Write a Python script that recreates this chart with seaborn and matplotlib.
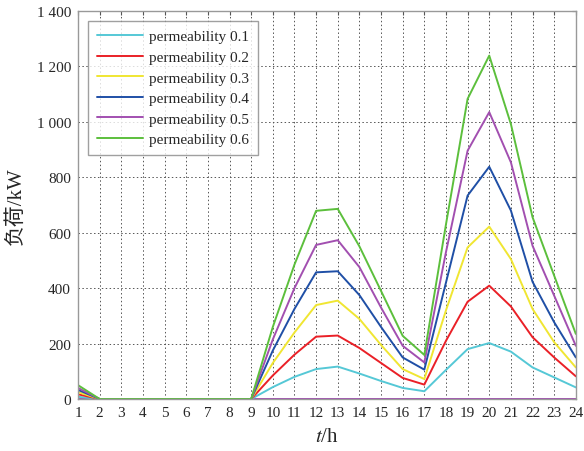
import pandas as pd
import matplotlib.pyplot as plt
import matplotlib.ticker as mticker
import seaborn as sns


hours = list(range(1, 25))

load_01 = [8, 0, 0, 0, 0, 0, 0, 0, 0, 43, 80, 108, 117, 92, 65, 40, 28, 105, 180, 202, 171, 114, 78, 42]
load_02 = [17, 0, 0, 0, 0, 0, 0, 0, 0, 85, 160, 225, 229, 184, 130, 76, 52, 210, 351, 409, 334, 223, 150, 82]
load_03 = [25, 0, 0, 0, 0, 0, 0, 0, 0, 130, 240, 339, 355, 289, 195, 108, 72, 320, 547, 622, 505, 325, 205, 114]
load_04 = [33, 0, 0, 0, 0, 0, 0, 0, 0, 175, 325, 457, 461, 375, 260, 150, 106, 420, 734, 838, 680, 423, 277, 150]
load_05 = [40, 0, 0, 0, 0, 0, 0, 0, 0, 215, 400, 556, 573, 476, 330, 192, 132, 530, 896, 1035, 854, 553, 373, 192]
load_06 = [50, 0, 0, 0, 0, 0, 0, 0, 0, 260, 485, 679, 686, 551, 390, 228, 159, 630, 1083, 1239, 992, 656, 445, 235]
baseline = [0] * 24

labels = ["permeability 0.1", "permeability 0.2", "permeability 0.3",
          "permeability 0.4", "permeability 0.5", "permeability 0.6"]
colors = ["#55c8d6", "#ea2027", "#f0e632", "#1f4fa6", "#a24fb0", "#5cbf3c"]
y_ticks = [0, 200, 400, 600, 800, 1000, 1200, 1400]

sns.set_style("white")
plt.rcParams["font.family"] = ["Liberation Serif", "Noto Sans CJK SC"]
plt.rcParams["mathtext.fontset"] = "stix"

fig = plt.figure(figsize=(5.84, 4.52), dpi=100)
ax = fig.add_axes([0.1336, 0.115, 0.8524, 0.8585])

df_base = pd.DataFrame({"hour": hours, "load": baseline})
sns.lineplot(data=df_base, x="hour", y="load", color="#a24fb0", linewidth=1.4, ax=ax)

series = [load_01, load_02, load_03, load_04, load_05, load_06]
for values, label, color in zip(series, labels, colors):
    df = pd.DataFrame({"hour": hours, "load": values})
    sns.lineplot(data=df, x="hour", y="load", color=color, label=label,
                 linewidth=1.4, ax=ax)

ax.set_xlim(1, 24)
ax.set_ylim(0, 1400)
ax.set_xticks(hours)
ax.set_yticks(y_ticks)
ax.yaxis.set_major_formatter(
    mticker.FuncFormatter(lambda v, p: f"{v:,.0f}".replace(",", " "))
)

ax.grid(True, color="#555555", linestyle=(0, (1.5, 2.5)), linewidth=0.7)
ax.tick_params(direction="in", top=True, right=True, length=3,
               color="#555555", labelsize=11, pad=5)
for spine in ax.spines.values():
    spine.set_color("#999999")
    spine.set_linewidth(1.0)

ax.set_xlabel("$t$/h", fontsize=15, labelpad=6)
ax.set_ylabel("负荷/kW", fontsize=15, labelpad=8)

leg = ax.legend(loc="upper left", fontsize=11, frameon=True, fancybox=False,
                edgecolor="#888888", handlelength=3.0, handletextpad=0.4,
                borderpad=0.6, labelspacing=0.45, bbox_to_anchor=(0.005, 0.995))
leg.get_frame().set_linewidth(1.0)

fig.savefig("out.png", dpi=100)
plt.close()
